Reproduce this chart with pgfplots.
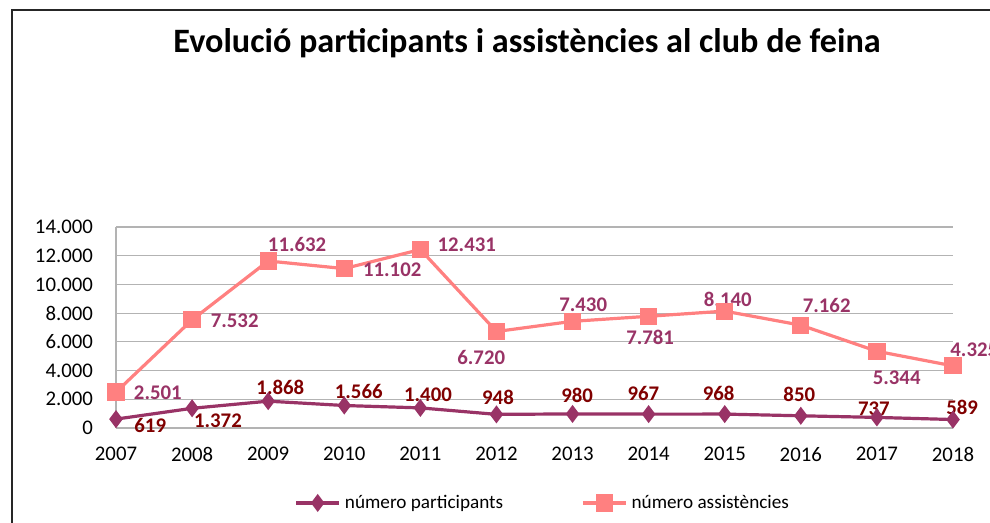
\documentclass[border=0pt]{standalone}
\usepackage{pgfplots}
\pgfplotsset{compat=1.18}
\usepackage{fontspec}
\setmainfont{Carlito}

\definecolor{partline}{HTML}{993366}
\definecolor{partlbl}{HTML}{800000}
\definecolor{assline}{HTML}{FF8080}
\definecolor{asslbl}{HTML}{993366}
\definecolor{gridc}{HTML}{B3B3B3}

\tikzset{
  lblP/.style={font=\fontsize{10.4}{12}\selectfont\bfseries, text=partlbl, inner sep=0pt},
  lblA/.style={font=\fontsize{10.4}{12}\selectfont\bfseries, text=asslbl, inner sep=0pt},
}

\begin{document}
\begin{tikzpicture}
% page = 990x523 px at 0.5pt per px
\useasboundingbox (0,0) rectangle (495pt,261.5pt);
\draw[line width=1.1pt, black!85] (6pt,-5pt) -- (6pt,256.5pt) -- (500pt,256.5pt);
\node[anchor=base, font=\fontsize{17.1}{19}\selectfont\bfseries] at (263.5pt,235pt)
  {Evolució participants i assistències al club de feina};

\begin{axis}[
    at={(58pt,47.5pt)}, anchor=south west,
    scale only axis,
    width=418.5pt, height=100.5pt,
    xmin=2007, xmax=2018,
    ymin=0, ymax=14000,
    xtick={2007,2008,...,2018},
    ytick={0,2000,...,14000},
    scaled y ticks=false,
    axis x line*=bottom, axis y line*=left,
    axis line style={gridc, line width=0.6pt, -},
    major tick length=0pt,
    ymajorgrids=true,
    grid style={gridc, line width=0.6pt},
    font=\fontsize{10.4}{12}\selectfont,
    /pgf/number format/assume math mode=true,
    yticklabel style={/pgf/number format/1000 sep={.}, /pgf/number format/fixed, xshift=-8pt},
    xticklabel style={/pgf/number format/1000 sep={}, yshift=-6pt},
    clip=false,
    legend columns=2,
    legend style={draw=none, at={(0.511,-0.373)}, anchor=center,
                  font=\fontsize{9.6}{11}\selectfont,
                  /tikz/every even column/.append style={column sep=37pt}},
    legend image code/.code={
      \draw[mark repeat=2, mark phase=2] plot coordinates {(0cm,0cm) (0.38cm,0cm) (0.76cm,0cm)};
    },
]

\addplot[partline, line width=1.6pt, mark=diamond*, mark size=3.2pt,
         mark options={fill=partline, draw=partline}] coordinates {
(2007,619) (2008,1372) (2009,1868) (2010,1566) (2011,1400) (2012,948)
(2013,980) (2014,967) (2015,968) (2016,850) (2017,737) (2018,589)
};
\addlegendentry{número participants}

\addplot[assline, line width=1.6pt, mark=square*, mark size=3.5pt,
         mark options={fill=assline, draw=assline}] coordinates {
(2007,2501) (2008,7532) (2009,11632) (2010,11102) (2011,12431) (2012,6720)
(2013,7430) (2014,7781) (2015,8140) (2016,7162) (2017,5344) (2018,4325)
};
\addlegendentry{número assistències}

% data labels: participants
\node[lblP] at (axis cs:2007.45,209) {619};
\node[lblP] at (axis cs:2008.34,488) {1.372};
\node[lblP] at (axis cs:2009.16,2856) {1.868};
\node[lblP] at (axis cs:2010.19,2577) {1.566};
\node[lblP] at (axis cs:2011.10,2298) {1.400};
\node[lblP] at (axis cs:2012.02,2159) {948};
\node[lblP] at (axis cs:2013.06,2298) {980};
\node[lblP] at (axis cs:2013.93,2438) {967};
\node[lblP] at (axis cs:2014.92,2438) {968};
\node[lblP] at (axis cs:2015.98,2368) {850};
\node[lblP] at (axis cs:2016.96,1323) {737};
\node[lblP] at (axis cs:2018.12,1463) {589};

% data labels: assistencies
\node[lblA] at (axis cs:2007.55,2438) {2.501};
\node[lblA] at (axis cs:2008.56,7453) {7.532};
\node[lblA] at (axis cs:2009.38,12816) {11.632};
\node[lblA] at (axis cs:2010.63,11005) {11.102};
\node[lblA] at (axis cs:2011.61,12746) {12.431};
\node[lblA] at (axis cs:2011.80,4945) {6.720};
\node[lblA] at (axis cs:2013.14,8567) {7.430};
\node[lblA] at (axis cs:2014.02,6338) {7.781};
\node[lblA] at (axis cs:2015.04,8985) {8.140};
\node[lblA] at (axis cs:2016.34,8567) {7.162};
\node[lblA] at (axis cs:2017.26,3483) {5.344};
\node[lblA] at (axis cs:2018.28,5433) {4.325};
\end{axis}
\end{tikzpicture}
\end{document}
